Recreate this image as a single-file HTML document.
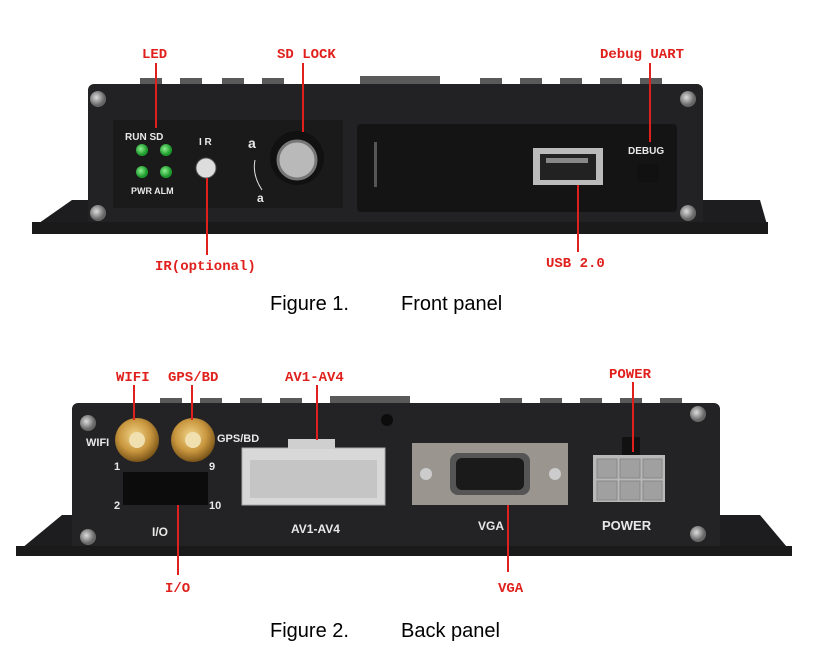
<!DOCTYPE html>
<html><head><meta charset="utf-8"><style>
html,body{margin:0;padding:0;background:#fff;}
svg{display:block}
.lbl{font-family:"Liberation Mono",monospace;fill:#e0201c;font-size:14px;font-weight:bold}
.fig{font-family:"Liberation Sans",sans-serif;font-size:20px;fill:#000}
.wt{font-family:"Liberation Sans",sans-serif;fill:#e8e8e8;font-weight:bold}
</style></head><body>
<svg width="828" height="663" viewBox="0 0 828 663" xmlns="http://www.w3.org/2000/svg">
<defs>
<radialGradient id="gold" cx="45%" cy="40%" r="60%"><stop offset="0" stop-color="#f2d58a"/><stop offset="0.6" stop-color="#c8963e"/><stop offset="1" stop-color="#7a5418"/></radialGradient>
<radialGradient id="scr" cx="40%" cy="40%"><stop offset="0" stop-color="#ddd"/><stop offset="1" stop-color="#666"/></radialGradient>
<radialGradient id="led" cx="40%" cy="40%"><stop offset="0" stop-color="#8ef08e"/><stop offset="1" stop-color="#1c9a2c"/></radialGradient>
</defs>
<!-- FRONT -->
<path d="M32 228 L72 200 L760 200 L768 228 Z" fill="#1d1d1f"/>
<g fill="#5a5a5a">
<rect x="140" y="78" width="22" height="10"/><rect x="180" y="78" width="22" height="10"/><rect x="222" y="78" width="22" height="10"/><rect x="262" y="78" width="22" height="10"/>
<rect x="360" y="76" width="80" height="10"/><rect x="480" y="78" width="22" height="10"/><rect x="520" y="78" width="22" height="10"/><rect x="560" y="78" width="22" height="10"/><rect x="600" y="78" width="22" height="10"/><rect x="640" y="78" width="22" height="10"/></g>
<rect x="88" y="84" width="615" height="148" rx="6" fill="#222224"/>
<rect x="32" y="222" width="736" height="12" fill="#1a1a1a"/>
<circle cx="98" cy="99" r="8" fill="url(#scr)"/><circle cx="688" cy="99" r="8" fill="url(#scr)"/>
<circle cx="98" cy="213" r="8" fill="url(#scr)"/><circle cx="688" cy="213" r="8" fill="url(#scr)"/>
<rect x="113" y="120" width="230" height="88" fill="#1a1a1a"/>
<rect x="357" y="124" width="320" height="88" rx="4" fill="#141414"/>
<text x="125" y="140" class="wt" font-size="10">RUN SD</text>
<circle cx="142" cy="150" r="6" fill="url(#led)"/><circle cx="166" cy="150" r="6" fill="url(#led)"/>
<circle cx="142" cy="172" r="6" fill="url(#led)"/><circle cx="166" cy="172" r="6" fill="url(#led)"/>
<text x="131" y="194" class="wt" font-size="9">PWR ALM</text>
<text x="199" y="145" class="wt" font-size="10">I R</text>
<circle cx="206" cy="168" r="10" fill="#ddd" stroke="#555"/>
<text x="248" y="148" class="wt" font-size="14">a</text>
<path d="M255 160 Q252 175 262 190" stroke="#ddd" fill="none"/>
<text x="257" y="202" class="wt" font-size="12">a</text>
<circle cx="297" cy="158" r="27" fill="#111"/><circle cx="297" cy="160" r="19" fill="#b9b9b9" stroke="#777" stroke-width="3"/>
<rect x="374" y="142" width="3" height="45" fill="#555"/>
<rect x="533" y="148" width="70" height="37" fill="#bbb"/><rect x="540" y="154" width="56" height="26" fill="#222"/><rect x="546" y="158" width="42" height="5" fill="#888"/>
<text x="628" y="154" class="wt" font-size="10">DEBUG</text>
<rect x="637" y="164" width="22" height="18" fill="#111"/>
<!-- front labels -->
<text x="142" y="58" class="lbl">LED</text>
<text x="277" y="58" class="lbl">SD LOCK</text>
<text x="600" y="58" class="lbl">Debug UART</text>
<text x="155" y="270" class="lbl">IR(optional)</text>
<text x="546" y="267" class="lbl">USB 2.0</text>
<g stroke="#e0201c" stroke-width="2">
<line x1="156" y1="63" x2="156" y2="128"/><line x1="303" y1="63" x2="303" y2="132"/>
<line x1="650" y1="63" x2="650" y2="142"/><line x1="207" y1="178" x2="207" y2="255"/>
<line x1="578" y1="185" x2="578" y2="252"/></g>
<text x="270" y="310" class="fig">Figure 1.</text><text x="401" y="310" class="fig">Front panel</text>
<!-- BACK -->
<path d="M16 553 L62 515 L760 515 L792 553 Z" fill="#1d1d1f"/>
<g fill="#5a5a5a">
<rect x="160" y="398" width="22" height="10"/><rect x="200" y="398" width="22" height="10"/><rect x="240" y="398" width="22" height="10"/><rect x="280" y="398" width="22" height="10"/>
<rect x="330" y="396" width="80" height="10"/><rect x="500" y="398" width="22" height="10"/><rect x="540" y="398" width="22" height="10"/><rect x="580" y="398" width="22" height="10"/><rect x="620" y="398" width="22" height="10"/><rect x="660" y="398" width="22" height="10"/></g>
<rect x="72" y="403" width="648" height="146" rx="6" fill="#232325"/>
<rect x="16" y="546" width="776" height="10" fill="#1a1a1a"/>
<circle cx="88" cy="423" r="8" fill="url(#scr)"/><circle cx="88" cy="537" r="8" fill="url(#scr)"/>
<circle cx="698" cy="414" r="8" fill="url(#scr)"/><circle cx="698" cy="534" r="8" fill="url(#scr)"/>
<circle cx="387" cy="420" r="6" fill="#0c0c0c"/>
<circle cx="137" cy="440" r="22" fill="url(#gold)"/><circle cx="137" cy="440" r="8" fill="#f0e0b0"/>
<circle cx="193" cy="440" r="22" fill="url(#gold)"/><circle cx="193" cy="440" r="8" fill="#f0e0b0"/>
<text x="86" y="446" class="wt" font-size="11">WIFI</text>
<text x="217" y="442" class="wt" font-size="11">GPS/BD</text>
<text x="114" y="470" class="wt" font-size="11">1</text><text x="209" y="470" class="wt" font-size="11">9</text>
<text x="114" y="509" class="wt" font-size="11">2</text><text x="209" y="509" class="wt" font-size="11">10</text>
<rect x="123" y="472" width="85" height="33" fill="#0c0c0c"/>
<text x="152" y="536" class="wt" font-size="12">I/O</text>
<rect x="242" y="448" width="143" height="57" fill="#d8d8d8" stroke="#aaa"/>
<rect x="288" y="439" width="47" height="10" fill="#cfcfcf"/>
<rect x="250" y="460" width="127" height="38" fill="#c5c5c5"/>
<text x="291" y="533" class="wt" font-size="12">AV1-AV4</text>
<rect x="412" y="443" width="156" height="62" fill="#9a968f"/>
<rect x="450" y="453" width="80" height="42" rx="8" fill="#555"/><rect x="456" y="458" width="68" height="32" rx="6" fill="#1a1a1a"/>
<circle cx="426" cy="474" r="6" fill="#ccc"/><circle cx="555" cy="474" r="6" fill="#ccc"/>
<text x="478" y="530" class="wt" font-size="12">VGA</text>
<rect x="622" y="437" width="18" height="18" fill="#111"/>
<rect x="593" y="455" width="72" height="47" fill="#b8b8b8"/>
<g fill="#a0a0a0" stroke="#888"><rect x="597" y="459" width="20" height="19"/><rect x="620" y="459" width="20" height="19"/><rect x="643" y="459" width="19" height="19"/><rect x="597" y="481" width="20" height="19"/><rect x="620" y="481" width="20" height="19"/><rect x="643" y="481" width="19" height="19"/></g>
<text x="602" y="530" class="wt" font-size="13">POWER</text>
<!-- back labels -->
<text x="116" y="381" class="lbl">WIFI</text>
<text x="168" y="381" class="lbl">GPS/BD</text>
<text x="285" y="381" class="lbl">AV1-AV4</text>
<text x="609" y="378" class="lbl">POWER</text>
<text x="165" y="592" class="lbl">I/O</text>
<text x="498" y="592" class="lbl">VGA</text>
<g stroke="#e0201c" stroke-width="2">
<line x1="134" y1="385" x2="134" y2="420"/><line x1="192" y1="385" x2="192" y2="420"/>
<line x1="317" y1="385" x2="317" y2="440"/><line x1="633" y1="382" x2="633" y2="452"/>
<line x1="178" y1="505" x2="178" y2="575"/><line x1="508" y1="505" x2="508" y2="572"/></g>
<text x="270" y="637" class="fig">Figure 2.</text><text x="401" y="637" class="fig">Back panel</text>
</svg>
</body></html>
